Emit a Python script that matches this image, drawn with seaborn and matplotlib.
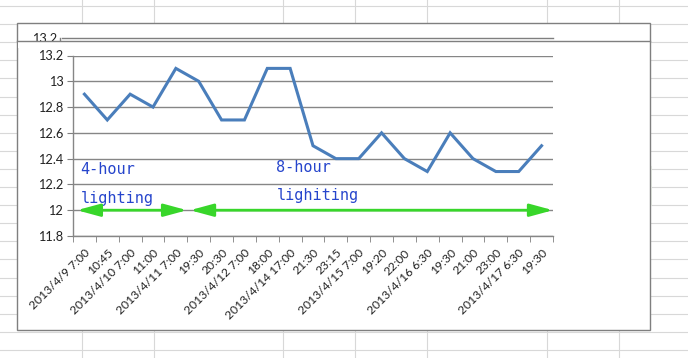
import numpy as np
import pandas as pd
import matplotlib
matplotlib.use("Agg")
import matplotlib.pyplot as plt
from matplotlib.lines import Line2D
from matplotlib.patches import Rectangle
from matplotlib.transforms import ScaledTranslation
import seaborn as sns

# ------------------------------------------------------------
# data
# ------------------------------------------------------------
time_labels = [
    "2013/4/9 7:00", "10:45", "2013/4/10 7:00", "11:00", "2013/4/11 7:00",
    "19:30", "20:30", "2013/4/12 7:00", "18:00", "2013/4/14 17:00",
    "21:30", "23:15", "2013/4/15 7:00", "19:20", "22:00",
    "2013/4/16 6:30", "19:30", "21:00", "23:00", "2013/4/17 6:30", "19:30",
]
values = [12.9, 12.7, 12.9, 12.8, 13.1, 13.0, 12.7, 12.7, 13.1, 13.1,
          12.5, 12.4, 12.4, 12.6, 12.4, 12.3, 12.6, 12.4, 12.3, 12.3, 12.5]
y_ticks = [11.8, 12.0, 12.2, 12.4, 12.6, 12.8, 13.0, 13.2]
y_tick_labels = ["11.8", "12", "12.2", "12.4", "12.6", "12.8", "13", "13.2"]

df = pd.DataFrame({"pos": np.arange(len(values)), "value": values})

W, H = 688, 358
fig = plt.figure(figsize=(W / 100, H / 100), dpi=100)
fig.patch.set_facecolor("white")


def px(x, y):
    # pixel (from top-left) -> figure fraction
    return x / W, 1 - y / H


# spreadsheet cell grid behind the chart
sheet_col = "#d8d8d8"
for y in np.arange(6, H, 18.1):
    a, b = px(0, y), px(W, y)
    fig.add_artist(Line2D([a[0], b[0]], [a[1], b[1]], color=sheet_col, lw=0.8, zorder=0))
for x in [82, 154, 283, 355, 427, 547, 619]:
    a, b = px(x, 0), px(x, H)
    fig.add_artist(Line2D([a[0], b[0]], [a[1], b[1]], color=sheet_col, lw=0.8, zorder=0))

# pale selected cell on the right
x0, y1 = px(564, 206)
fig.add_artist(Rectangle((x0, y1), 88 / W, 40 / H, transform=fig.transFigure,
                         facecolor="#edf2eb", edgecolor="none", zorder=1))

# chart frame
x0, y1 = px(17, 330)
fig.add_artist(Rectangle((x0, y1), 633 / W, 307 / H, transform=fig.transFigure,
                         facecolor="white", edgecolor="#7f7f7f", lw=1.0, zorder=2))

# leftover redraw artefact at top of chart
a, b = px(62, 37.7), px(553, 37.7)
fig.add_artist(Line2D([a[0], b[0]], [a[1], b[1]], color="#7f7f7f", lw=1.0, zorder=3))
a, b = px(60, 37.7), px(60, 40)
fig.add_artist(Line2D([a[0], b[0]], [a[1], b[1]], color="#7f7f7f", lw=1.0, zorder=3))
t = px(57, 43)
fig.text(t[0], t[1], "13.2", ha="right", va="baseline", fontsize=9.2,
         family="Lato", color="#222222", zorder=3)
x0, y1 = px(18, 48)
fig.add_artist(Rectangle((x0, y1), 100 / W, 7.3 / H, transform=fig.transFigure,
                         facecolor="white", edgecolor="none", zorder=3.5))
a, b = px(17, 40.7), px(650, 40.7)
fig.add_artist(Line2D([a[0], b[0]], [a[1], b[1]], color="#7f7f7f", lw=1.0, zorder=4))

# ------------------------------------------------------------
# plot area
# ------------------------------------------------------------
left, bottom = px(73, 236)
ax = fig.add_axes([left, bottom, 480 / W, 180.5 / H], zorder=5)
ax.patch.set_alpha(0)

sns.lineplot(data=df, x="pos", y="value", ax=ax, color="#4a7ebb", lw=2.2,
             solid_joinstyle="miter")

ax.set_xlim(-0.5, len(values) - 0.5)
ax.set_ylim(11.8, 13.2)
ax.set_yticks(y_ticks)
ax.set_yticklabels(y_tick_labels, fontsize=9.2, family="Lato", color="#222222")
ax.set_xticks(df["pos"])
ax.set_xticklabels(time_labels, rotation=45, ha="right", rotation_mode="anchor",
                   fontsize=8.7, family="Lato", color="#222222")
shift = ScaledTranslation(3 / 100, 0, fig.dpi_scale_trans)
for lab in ax.get_xticklabels():
    lab.set_transform(lab.get_transform() + shift)
ax.set_xticks(np.arange(-0.5, len(values)), minor=True)
ax.tick_params(axis="x", which="major", length=0, pad=8)
ax.tick_params(axis="x", which="minor", length=4, color="#7f7f7f", direction="out")
ax.tick_params(axis="y", length=4, color="#7f7f7f", pad=3)
ax.set_xlabel("")
ax.set_ylabel("")
ax.grid(axis="y", color="#868686", lw=1.0)
ax.set_axisbelow(True)
for side in ["top", "right"]:
    ax.spines[side].set_visible(False)
for side in ["left", "bottom"]:
    ax.spines[side].set_color("#868686")
    ax.spines[side].set_linewidth(1.0)

# lighting-period arrows at 12
arrow_kw = dict(arrowstyle="<|-|>,head_length=1.4,head_width=0.38", color="#38d62a",
                lw=2.0, mutation_scale=10, shrinkA=0, shrinkB=0)
ax.annotate("", xy=(4.49, 12.0), xytext=(-0.33, 12.0), arrowprops=arrow_kw, zorder=6)
ax.annotate("", xy=(20.5, 12.0), xytext=(4.62, 12.0), arrowprops=arrow_kw, zorder=6)

note_kw = dict(fontsize=11, family="DejaVu Sans Mono", color="#2645cc", va="baseline")
ax.text(-0.17, 12.28, "4-hour", **note_kw)
ax.text(-0.14, 12.056, "lighting", **note_kw)
ax.text(8.36, 12.296, "8-hour", **note_kw)
ax.text(8.40, 12.079, "lighiting", **note_kw)

fig.savefig("out.png", dpi=100)
